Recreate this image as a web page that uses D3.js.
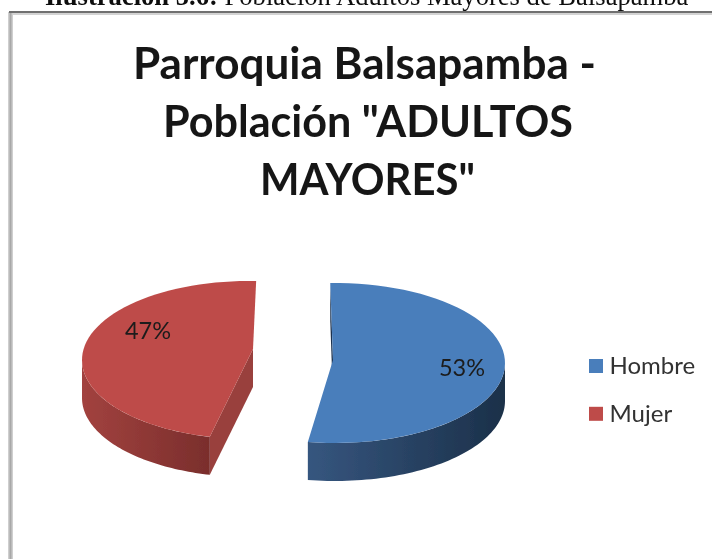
<!DOCTYPE html>
<html><head><meta charset="utf-8">
<script src="https://cdnjs.cloudflare.com/ajax/libs/d3/7.8.5/d3.min.js"></script>
<style>html,body{margin:0;padding:0;background:#fff;overflow:hidden}svg{display:block}</style>
</head><body><svg id="c" width="712" height="559"></svg>
<script>
const categories = ["Hombre", "Mujer"];
const values = [53, 47];
const labels = ["53%", "47%"];
const colors = ["#4a7ebb", "#be4b48"];
const titleLines = ["Parroquia Balsapamba -", 'Población "ADULTOS', 'MAYORES"'];

const svg = d3.select("#c");
const W = 712, H = 559;
const defs = svg.append("defs");
defs.append("filter").attr("id","soft").append("feGaussianBlur").attr("stdDeviation",0.7);
const root = svg.append("g").attr("filter","url(#soft)");

// caption + frame
const cap = root.append("text").attr("x",45).attr("y",5)
  .attr("font-family","Liberation Serif").attr("font-size",26.6).attr("fill","#111");
cap.append("tspan").attr("font-weight","bold").text("Ilustración 5.6:");
cap.append("tspan").text(" Población Adultos Mayores de Balsapamba");
root.append("line").attr("x1",10.5).attr("x2",10.5).attr("y1",12).attr("y2",H+3).attr("stroke","#cfcfcf").attr("stroke-width",5);
root.append("line").attr("x1",10.5).attr("x2",10.5).attr("y1",12).attr("y2",H+3).attr("stroke","#a8a8a8").attr("stroke-width",2);
root.append("line").attr("x1",9).attr("x2",W+3).attr("y1",12).attr("y2",12).attr("stroke","#707070").attr("stroke-width",2.2);
root.append("line").attr("x1",13).attr("x2",W+3).attr("y1",14).attr("y2",14).attr("stroke","#c4c4c4").attr("stroke-width",1.5);

// title
const titleWidths = [463, 410, 215];
root.append("g").selectAll("text").data(titleLines).join("text")
  .attr("x",(d,i)=>[364.5,368,367.5][i]).attr("y",(d,i)=>79+i*58.2).attr("text-anchor","middle")
  .attr("textLength",(d,i)=>titleWidths[i]).attr("lengthAdjust","spacingAndGlyphs")
  .attr("font-family","Lato").attr("font-weight",700).attr("font-size",44).attr("fill","#151515").text(d=>d);

// pie
const pie = d3.pie().sort(null).startAngle(-0.024).endAngle(2*Math.PI-0.024)(values);
// per-slice view geometry of the exploded, tilted pie
const view = [
 {cx:335, cy:363, rx:170, ry:80, apexDx:-2, apexDy:-3, rot:-0.004},
 {cx:248.5, cy:360, rx:166.5, ry:79, apexDx:4.5, apexDy:-11, rot:0.07}
];
const depth = 38;
const grads = [["#36567f","#1b3049"],["#a2423f","#7a2e2c"]];
grads.forEach((g,i)=>{
  const lg = defs.append("linearGradient").attr("id","w"+i);
  lg.append("stop").attr("offset","0%").attr("stop-color",g[0]);
  lg.append("stop").attr("offset","100%").attr("stop-color",g[1]);
});
const line = d3.line();
pie.forEach((p,i)=>{
  const v = view[i];
  const sx = d3.scaleLinear().domain([-1,1]).range([v.cx-v.rx,v.cx+v.rx]);
  const sy = d3.scaleLinear().domain([-1,1]).range([v.cy-v.ry,v.cy+v.ry]);
  const a0 = p.startAngle+v.rot, a1 = p.endAngle+v.rot;
  const pt = a => [sx(Math.sin(a)), sy(-Math.cos(a))];
  const arc = (s,e) => d3.range(0,61).map(k=>pt(s+(e-s)*k/60));
  const apex = [v.cx+v.apexDx, v.cy+v.apexDy];
  const g = root.append("g");
  const down = q => [q[0],q[1]+depth];
  // cut wall
  const e = pt(a0);
  g.append("path").attr("d",line([e,apex,down(apex),down(e)])+"Z").attr("fill",i===0?"#1d3350":"#99403d");
  // rim wall: visible only on the near half
  const nearS = Math.max(a0,Math.PI/2), nearE = Math.min(a1,1.5*Math.PI);
  const rim = arc(nearS,nearE);
  g.append("path").attr("d",line(rim.concat(rim.map(down).reverse()))+"Z").attr("fill",`url(#w${i})`);
  // top face
  g.append("path").attr("d",line(arc(a0,a1).concat([apex]))+"Z").attr("fill",colors[i]);
});

// data labels
const labelPos = [[462,367.5],[148,330.5]];
root.append("g").selectAll("text").data(labels).join("text")
  .attr("x",(d,i)=>labelPos[i][0]).attr("y",(d,i)=>labelPos[i][1]+8).attr("text-anchor","middle")
  .attr("font-family","Lato").attr("font-size",23.5).attr("fill","#1c1c1c").text(d=>d);

// legend
const leg = root.append("g").selectAll("g").data(categories).join("g")
  .attr("transform",(d,i)=>`translate(589,${359+i*47.8})`);
leg.append("rect").attr("width",14).attr("height",14).attr("fill",(d,i)=>colors[i]);
leg.append("text").attr("x",20.5).attr("y",15).attr("font-family","Lato").attr("font-size",24).attr("fill","#333").text(d=>d);
</script></body></html>
